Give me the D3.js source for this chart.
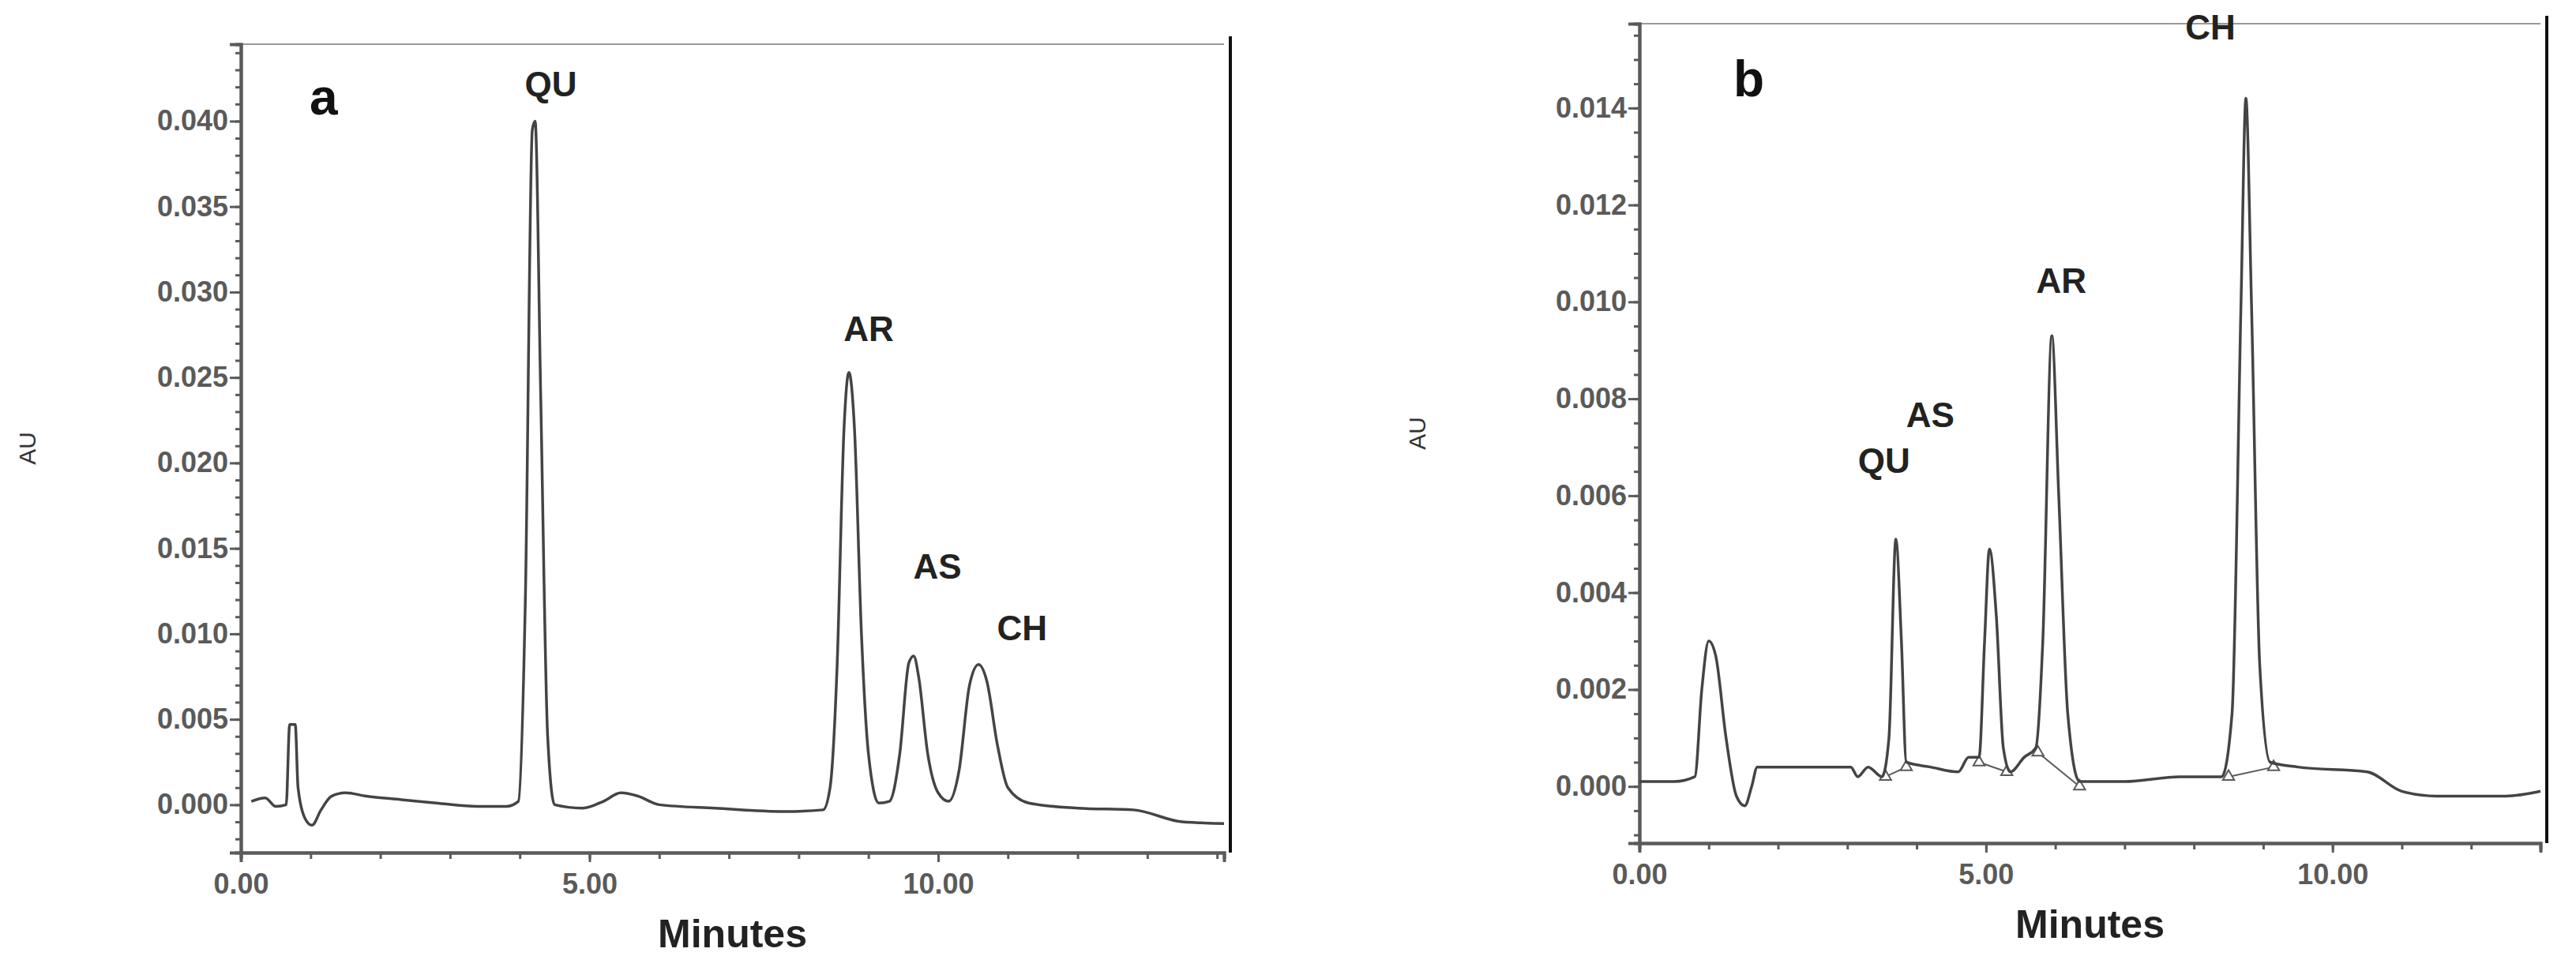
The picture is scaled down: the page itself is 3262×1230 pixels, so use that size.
<!DOCTYPE html>
<html><head><meta charset="utf-8">
<script src="https://cdn.jsdelivr.net/npm/d3@7.9.0/dist/d3.min.js"></script>
<style>body{margin:0;background:#fff}svg{display:block}</style>
</head><body>
<svg id="chart" width="3262" height="1230"></svg>
<script>
// panel a trace (minutes, AU)
const traceA = [[0.15,0.0002],[0.35,0.0004],[0.5,-0.0001],[0.65,0.0000],[0.7,0.0047],[0.78,0.0047],[0.82,0.0010],[0.92,-0.0008],[1.02,-0.0012],[1.15,-0.0003],[1.3,0.0005],[1.5,0.0007],[1.8,0.0005],[2.3,0.0003],[2.8,0.0001],[3.4,-0.0001],[3.8,-0.0001],[3.98,0.0002],[4.08,0.012],[4.18,0.0395],[4.22,0.0400],[4.3,0.024],[4.4,0.004],[4.5,0.0000],[4.9,-0.0002],[5.2,0.0002],[5.45,0.0007],[5.7,0.0005],[6.0,0.0000],[6.8,-0.0002],[7.8,-0.0004],[8.35,-0.0003],[8.45,0.0010],[8.55,0.008],[8.65,0.022],[8.72,0.0253],[8.8,0.022],[8.9,0.010],[9.0,0.0030],[9.15,0.0001],[9.3,0.0002],[9.45,0.0030],[9.58,0.0083],[9.65,0.0087],[9.72,0.0075],[9.85,0.0030],[10.0,0.0007],[10.15,0.0002],[10.3,0.0020],[10.45,0.0070],[10.58,0.0082],[10.7,0.0072],[10.85,0.0035],[11.0,0.0010],[11.3,0.0001],[12.0,-0.0002],[12.8,-0.0003],[13.5,-0.0010],[14.1,-0.0011]];
// panel b trace
const traceB = [[0.0,0.0001],[0.5,0.0001],[0.8,0.0002],[0.9,0.0020],[1.0,0.0030],[1.1,0.0027],[1.25,0.0010],[1.4,-0.0002],[1.52,-0.0004],[1.62,0.0000],[1.7,0.0004],[2.2,0.0004],[2.8,0.0004],[3.05,0.0004],[3.15,0.0002],[3.3,0.0004],[3.5,0.0002],[3.6,0.0010],[3.7,0.0051],[3.78,0.0030],[3.85,0.0005],[4.2,0.0004],[4.6,0.0003],[4.75,0.0006],[4.9,0.0006],[4.98,0.0030],[5.05,0.0049],[5.15,0.0035],[5.25,0.0008],[5.35,0.0003],[5.55,0.0006],[5.72,0.0008],[5.82,0.0030],[5.95,0.0093],[6.05,0.0060],[6.18,0.0015],[6.35,0.0001],[7.0,0.0001],[7.8,0.0002],[8.4,0.0002],[8.55,0.0015],[8.68,0.0100],[8.75,0.0142],[8.83,0.0100],[8.95,0.0025],[9.1,0.0005],[9.5,0.0004],[10.5,0.0003],[11.0,-0.0001],[11.5,-0.0002],[12.5,-0.0002],[13.0,-0.0001]];
// peak start/end markers in panel b
const markersB = [[3.55,0.0002],[3.85,0.0004],[4.9,0.0005],[5.3,0.0003],[5.75,0.0007],[6.35,0.0000],[8.5,0.0002],[9.15,0.0004]];
const peaksA = [{name:"QU",t:4.22,y:0.0400},{name:"AR",t:8.72,y:0.0253},{name:"AS",t:9.65,y:0.0087},{name:"CH",t:10.58,y:0.0082}];
const peaksB = [{name:"QU",t:3.7,y:0.0051},{name:"AS",t:5.05,y:0.0049},{name:"AR",t:5.95,y:0.0093},{name:"CH",t:8.75,y:0.0142}];
const ticksXa = [0,5,10], ticksYa = [0,0.005,0.01,0.015,0.02,0.025,0.03,0.035,0.04];
const ticksXb = [0,5,10], ticksYb = [0,0.002,0.004,0.006,0.008,0.01,0.012,0.014];

// label offsets from each peak apex (px)
const offsA = [[20,-47],[25,-55],[30,-114],[55,-46]];
const offsB = [[-15,-100],[-75,-170],[12,-70],[-45,-90]];

const svg = d3.select("#chart");
const grey = "#5a5a5a";
const font = "Liberation Sans, Arial, sans-serif";

function panel(o) {
  const x = d3.scaleLinear().domain(o.xd).range([o.left, o.right]);
  const y = d3.scaleLinear().domain(o.yd).range([o.bottom, o.top]);
  const g = svg.append("g");
  // frame
  g.append("line").attr("x1", o.left).attr("x2", o.right).attr("y1", o.top).attr("y2", o.top)
    .attr("stroke", "#999").attr("stroke-width", 2);
  g.append("line").attr("x1", o.right + 8).attr("x2", o.right + 8).attr("y1", o.top - 10).attr("y2", o.bottom)
    .attr("stroke", "#111").attr("stroke-width", 4);
  // axes
  g.append("g").attr("transform", `translate(${o.left},0)`)
    .call(d3.axisLeft(y).tickValues(o.ty).tickFormat(d3.format(".3f")).tickSize(14).tickPadding(2));
  g.append("g").attr("transform", `translate(${o.left},0)`)
    .call(d3.axisLeft(y).tickValues(d3.range(o.yd[0] - o.yd[0] % o.ym, o.yd[1], o.ym)).tickFormat("").tickSize(7));
  g.append("g").attr("transform", `translate(0,${o.bottom})`)
    .call(d3.axisBottom(x).tickValues(o.tx).tickFormat(d3.format(".2f")).tickSize(12).tickPadding(14));
  g.append("g").attr("transform", `translate(0,${o.bottom})`)
    .call(d3.axisBottom(x).tickValues(d3.range(0, o.xd[1], 1)).tickFormat("").tickSize(8));
  g.selectAll(".domain").attr("stroke", grey).attr("stroke-width", 4);
  g.selectAll(".tick line").attr("stroke", grey).attr("stroke-width", 3);
  g.selectAll(".tick text").attr("fill", grey).attr("font-size", 36).attr("font-weight", "bold")
    .attr("font-family", font);
  // titles
  g.append("text").attr("x", (o.left + o.right) / 2).attr("y", o.bottom + 120).attr("text-anchor", "middle")
    .attr("font-size", 50).attr("font-weight", "bold").attr("font-family", font)
    .attr("fill", "#222").text("Minutes");
  g.append("text").attr("transform", `translate(${o.auX},${(o.top + o.bottom) / 2}) rotate(-90)`)
    .attr("text-anchor", "middle").attr("font-size", 30).attr("font-family", font)
    .attr("fill", "#333").text("AU");
  g.append("text").attr("x", o.letter[0]).attr("y", o.letter[1]).attr("font-size", 64).attr("font-weight", "bold")
    .attr("font-family", font).attr("fill", "#111").text(o.name);
  // baseline segments between markers
  if (o.markers) {
    for (let i = 0; i < o.markers.length; i += 2) {
      const a = o.markers[i], b = o.markers[i + 1];
      g.append("line").attr("x1", x(a[0])).attr("y1", y(a[1])).attr("x2", x(b[0])).attr("y2", y(b[1]))
        .attr("stroke", grey).attr("stroke-width", 2);
    }
    g.selectAll(".mk").data(o.markers).join("path")
      .attr("transform", d => `translate(${x(d[0])},${y(d[1])})`)
      .attr("d", d3.symbol(d3.symbolTriangle, 90))
      .attr("fill", "#fff").attr("stroke", grey).attr("stroke-width", 2);
  }
  g.append("path").datum(o.trace)
    .attr("d", d3.line().x(d => x(d[0])).y(d => y(d[1])).curve(d3.curveMonotoneX))
    .attr("fill", "none").attr("stroke", "#444").attr("stroke-width", 3.5);
  g.selectAll(".pk").data(o.peaks).join("text")
    .attr("x", (d, i) => x(d.t) + o.offs[i][0]).attr("y", (d, i) => y(d.y) + o.offs[i][1])
    .attr("text-anchor", "middle").attr("dominant-baseline", "central")
    .attr("font-size", 44).attr("font-weight", "bold")
    .attr("font-family", font).attr("fill", "#222")
    .text(d => d.name);
}

panel({name: "a", left: 305, right: 1550, top: 56, bottom: 1080, xd: [0, 14.1], yd: [-0.0028, 0.0445],
  tx: ticksXa, ty: ticksYa, ym: 0.001, trace: traceA, peaks: peaksA, offs: offsA, auX: 45, letter: [392, 145]});
panel({name: "b", left: 2076, right: 3217, top: 30, bottom: 1068, xd: [0, 13.0], yd: [-0.00117, 0.01574],
  tx: ticksXb, ty: ticksYb, ym: 0.0005, trace: traceB, peaks: peaksB, offs: offsB, markers: markersB, auX: 1805, letter: [2195, 122]});
</script>
</body></html>
